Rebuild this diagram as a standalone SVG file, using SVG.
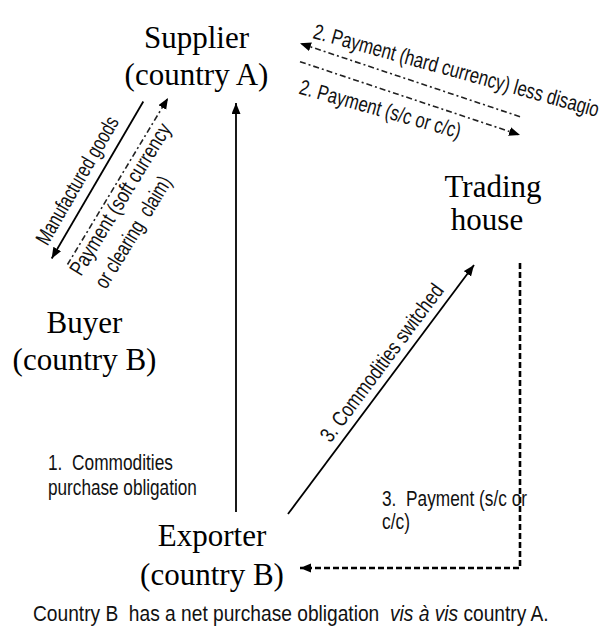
<svg xmlns="http://www.w3.org/2000/svg" width="608" height="627" viewBox="0 0 608 627">
  <defs>
    <marker id="ah" markerUnits="userSpaceOnUse" markerWidth="12" markerHeight="10" refX="11" refY="4.5" orient="auto">
      <path d="M0,0 L11,4.5 L0,9 z" fill="#000"/>
    </marker>
    <style>
      .node { font-family: "Liberation Serif", "Times New Roman", serif; font-size: 31px; text-anchor: middle; fill: #000; }
      .lbl { font-family: "Liberation Sans", Arial, sans-serif; font-size: 21.5px; fill: #111; white-space: pre; }
      .solid { fill: none; stroke: #000; stroke-width: 1.8; marker-end: url(#ah); }
      .dashdot { fill: none; stroke: #222; stroke-width: 1.6; stroke-dasharray: 6 3 2 3; marker-end: url(#ah); }
      .dash { fill: none; stroke: #000; stroke-width: 2.6; stroke-dasharray: 6 3; marker-end: url(#ah); }
    </style>
  </defs>
  <rect width="608" height="627" fill="#fff"/>

  <g id="supplier">
    <text class="node" x="196.5" y="48">Supplier</text>
    <text class="node" x="196.5" y="85">(country A)</text>
  </g>
  <g id="trading-house">
    <text class="node" x="493" y="197">Trading</text>
    <text class="node" x="487" y="230">house</text>
  </g>
  <g id="buyer">
    <text class="node" x="84.5" y="333">Buyer</text>
    <text class="node" x="84.5" y="370">(country B)</text>
  </g>
  <g id="exporter">
    <text class="node" x="212" y="546">Exporter</text>
    <text class="node" x="212" y="585">(country B)</text>
  </g>

  <g id="connectors">
    <path class="solid" d="M143.3,101.5 L51.7,258.5"/>
    <path class="dashdot" d="M67.5,264.5 L168,98"/>
    <path class="solid" d="M236,512 L236,103"/>
    <path class="dashdot" d="M520,116.7 L300,43.3"/>
    <path class="dashdot" d="M300,61.7 L520,135"/>
    <path class="solid" d="M288,514 L474,265"/>
    <path class="dash" d="M520,263 L520,568 L300,568"/>
  </g>

  <g id="labels">
    <text class="lbl" transform="translate(47.5 246.4) rotate(-60) scale(0.735 1)">Manufactured goods</text>
    <text class="lbl" transform="translate(81 277) rotate(-58.5) scale(0.787 1)">Payment (soft currency</text>
    <text class="lbl" transform="translate(106 290) rotate(-58.5) scale(0.749 1)">or clearing  claim)</text>
    <text class="lbl" transform="translate(312 38) rotate(15.5) scale(0.781 1)">2. Payment (hard currency) less disagio</text>
    <text class="lbl" transform="translate(298 93.4) rotate(15.7) scale(0.776 1)">2. Payment (s/c or c/c)</text>
    <text class="lbl" transform="translate(330.6 443.6) rotate(-53.3) scale(0.799 1)">3. Commodities switched</text>
    <text class="lbl" transform="translate(48 470) scale(0.805 1)">1.  Commodities</text>
    <text class="lbl" transform="translate(48 495) scale(0.799 1)">purchase obligation</text>
    <text class="lbl" transform="translate(382 506) scale(0.804 1)">3.  Payment (s/c or</text>
    <text class="lbl" transform="translate(382 529) scale(0.809 1)">c/c)</text>
  </g>

  <g id="footnote">
    <text class="lbl" transform="translate(33 621) scale(0.892 1)">Country B  has a net purchase obligation  <tspan font-style="italic">vis à vis</tspan> country A.</text>
  </g>
</svg>
